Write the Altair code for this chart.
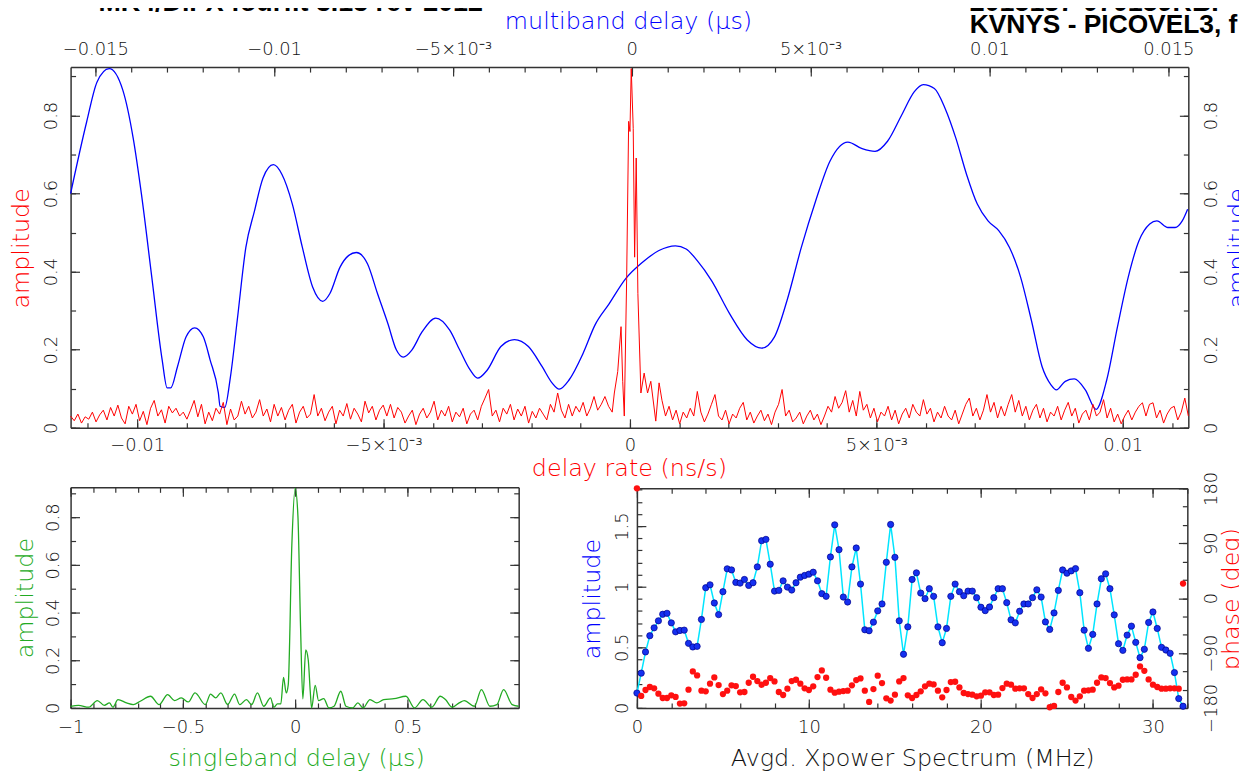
import altair as alt
import numpy as np
import pandas as pd

# ---------------- data ----------------
# Top panel, red: delay-rate amplitude (uniform delay-rate grid, noise floor + peak)
rate_left_start, rate_left_end = -0.01135, -0.00036
rate_left_amp = [
    0.030, 0.018, 0.035, 0.012, 0.028, 0.022, 0.040, 0.015, 0.033, 0.045,
    0.020, 0.052, 0.030, 0.058, 0.025, 0.010, 0.055, 0.035, 0.060, 0.018,
    0.042, 0.008, 0.050, 0.070, 0.030, 0.046, 0.012, 0.055, 0.038, 0.050,
    0.030, 0.040, 0.022, 0.045, 0.070, 0.028, 0.060, 0.010, 0.040, 0.018,
    0.050, 0.035, 0.065, 0.008, 0.048, 0.020, 0.030, 0.068, 0.035, 0.055,
    0.025, 0.040, 0.072, 0.030, 0.048, 0.015, 0.060, 0.030, 0.052, 0.020,
    0.045, 0.060, 0.012, 0.040, 0.055, 0.025, 0.035, 0.085, 0.030, 0.050,
    0.018, 0.040, 0.055, 0.010, 0.045, 0.030, 0.062, 0.022, 0.050, 0.035,
    0.015, 0.068, 0.038, 0.055, 0.020, 0.045, 0.058, 0.030, 0.060, 0.025,
    0.052, 0.040, 0.012, 0.030, 0.045, 0.008, 0.035, 0.050, 0.025, 0.040,
    0.068, 0.020, 0.045, 0.030, 0.055, 0.015, 0.040, 0.028, 0.050, 0.010,
    0.035, 0.045, 0.020, 0.055, 0.076, 0.098, 0.030, 0.045, 0.015, 0.050,
    0.035, 0.060, 0.020, 0.048, 0.030, 0.055, 0.012, 0.042, 0.025, 0.050,
    0.035, 0.020, 0.060, 0.040, 0.089, 0.045, 0.025, 0.060, 0.030, 0.055,
    0.040, 0.065, 0.030, 0.050, 0.080, 0.045, 0.060, 0.080, 0.055, 0.040,
]
rate_peak_x = [-0.000317, -0.000248, -0.000181, -0.000147, -0.000115, -0.0000665,
               -0.0000262, 0.0, 0.0000262, 0.0000665, 0.0000948, 0.000127, 0.000161,
               0.000222, 0.000288, 0.000357, 0.000423, 0.000524, 0.000591]
rate_peak_amp = [0.089, 0.144, 0.259, 0.119, 0.030, 0.386, 0.785, 0.759, 0.920, 0.767,
                 0.437, 0.691, 0.344, 0.089, 0.140, 0.089, 0.119, 0.017, 0.115]
rate_right_start, rate_right_end = 0.00065, 0.01133
rate_right_amp = [
    0.070, 0.030, 0.055, 0.020, 0.045, 0.010, 0.040, 0.025, 0.050, 0.030,
    0.093, 0.040, 0.015, 0.035, 0.060, 0.085, 0.030, 0.020, 0.045, 0.010,
    0.035, 0.025, 0.050, 0.065, 0.020, 0.040, 0.012, 0.030, 0.045, 0.018,
    0.035, 0.008, 0.040, 0.060, 0.098, 0.030, 0.045, 0.015, 0.025, 0.040,
    0.010, 0.030, 0.045, 0.020, 0.035, 0.008, 0.030, 0.055, 0.040, 0.080,
    0.050, 0.065, 0.095, 0.040, 0.070, 0.030, 0.093, 0.045, 0.060, 0.025,
    0.050, 0.015, 0.040, 0.030, 0.055, 0.020, 0.045, 0.010, 0.035, 0.050,
    0.025, 0.060, 0.040, 0.030, 0.072, 0.035, 0.050, 0.015, 0.040, 0.025,
    0.055, 0.030, 0.020, 0.045, 0.010, 0.035, 0.060, 0.076, 0.030, 0.050,
    0.020, 0.045, 0.085, 0.040, 0.065, 0.025, 0.055, 0.030, 0.060, 0.085,
    0.040, 0.070, 0.030, 0.055, 0.020, 0.045, 0.060, 0.025, 0.050, 0.015,
    0.040, 0.030, 0.055, 0.020, 0.045, 0.065, 0.030, 0.050, 0.012, 0.035,
    0.045, 0.020, 0.060, 0.030, 0.040, 0.072, 0.025, 0.050, 0.015, 0.035,
    0.010, 0.030, 0.045, 0.020, 0.040, 0.055, 0.064, 0.030, 0.060, 0.064,
    0.025, 0.045, 0.012, 0.035, 0.050, 0.055, 0.020, 0.040, 0.076, 0.030,
]

# Top panel, blue: multiband delay amplitude
mbd_x = [-0.01569, -0.01524, -0.01495, -0.01461, -0.01423, -0.01394, -0.01371, -0.01342,
         -0.01313, -0.01299, -0.01289, -0.01270, -0.01246, -0.01222, -0.01198, -0.01179,
         -0.01156, -0.01151, -0.01138, -0.01122, -0.01103, -0.01079, -0.01055, -0.01031,
         -0.01002, -0.00978, -0.00949, -0.00921, -0.00892, -0.00864, -0.00844, -0.00816,
         -0.00792, -0.00770, -0.00739, -0.00711, -0.00682, -0.00658, -0.00639, -0.00615,
         -0.00586, -0.00548, -0.00509, -0.00481, -0.00452, -0.00431, -0.00404, -0.00366,
         -0.00328, -0.00289, -0.00251, -0.00223, -0.00203, -0.00175, -0.00136, -0.00103,
         -0.00063, -0.00017, 0.00030, 0.00076, 0.00122, 0.00152, 0.00183, 0.00223,
         0.00273, 0.00323, 0.00363, 0.00399, 0.00434, 0.00474, 0.00514, 0.00554,
         0.00604, 0.00644, 0.00680, 0.00715, 0.00755, 0.00790, 0.00815, 0.00846,
         0.00876, 0.00906, 0.00936, 0.00966, 0.00996, 0.01026, 0.01056, 0.01087,
         0.01117, 0.01147, 0.01172, 0.01187, 0.01212, 0.01237, 0.01268, 0.01298,
         0.01328, 0.01358, 0.01388, 0.01418, 0.01448, 0.01468, 0.01499, 0.01519,
         0.01539, 0.01554]
mbd_amp = [0.600, 0.784, 0.886, 0.920, 0.865, 0.742, 0.599, 0.386, 0.174, 0.102,
           0.102, 0.157, 0.233, 0.256, 0.233, 0.174, 0.090, 0.055, 0.052, 0.131,
           0.276, 0.462, 0.555, 0.640, 0.674, 0.649, 0.573, 0.462, 0.360, 0.324,
           0.344, 0.411, 0.441, 0.449, 0.420, 0.344, 0.267, 0.199, 0.181, 0.199,
           0.246, 0.281, 0.250, 0.199, 0.148, 0.127, 0.148, 0.208, 0.226, 0.208,
           0.157, 0.115, 0.099, 0.123, 0.191, 0.263, 0.318, 0.382, 0.424, 0.454,
           0.466, 0.458, 0.428, 0.377, 0.293, 0.225, 0.204, 0.233, 0.326, 0.462,
           0.581, 0.683, 0.732, 0.715, 0.708, 0.734, 0.802, 0.861, 0.879, 0.869,
           0.818, 0.742, 0.649, 0.573, 0.530, 0.505, 0.462, 0.386, 0.276, 0.157,
           0.110, 0.097, 0.119, 0.125, 0.097, 0.047, 0.123, 0.259, 0.386, 0.479,
           0.522, 0.530, 0.513, 0.513, 0.530, 0.560]

# Bottom-left, green: singleband delay amplitude
sbd_x = [-1.000, -0.965, -0.919, -0.881, -0.850, -0.827, -0.812, -0.789, -0.751, -0.721,
         -0.690, -0.644, -0.606, -0.568, -0.537, -0.507, -0.476, -0.446, -0.400, -0.377,
         -0.354, -0.331, -0.301, -0.270, -0.247, -0.217, -0.194, -0.168, -0.140, -0.110,
         -0.095, -0.079, -0.064, -0.052, -0.040, -0.031, -0.015, 0.000, 0.012, 0.024,
         0.034, 0.047, 0.058, 0.067, 0.073, 0.089, 0.104, 0.127, 0.150, 0.173,
         0.203, 0.226, 0.256, 0.279, 0.302, 0.333, 0.363, 0.394, 0.440, 0.493,
         0.531, 0.569, 0.608, 0.646, 0.669, 0.699, 0.730, 0.753, 0.798, 0.829,
         0.867, 0.898, 0.928, 0.966, 0.995]
sbd_amp = [0.007, 0.011, 0.003, 0.031, 0.011, 0.021, 0.003, 0.035, 0.021, 0.014,
           0.028, 0.049, 0.014, 0.056, 0.031, 0.042, 0.025, 0.063, 0.014, 0.058,
           0.042, 0.063, 0.014, 0.058, 0.014, 0.035, 0.014, 0.063, 0.007, 0.042,
           0.003, 0.017, 0.017, 0.128, 0.063, 0.097, 0.682, 0.921, 0.807, 0.334,
           0.038, 0.243, 0.202, 0.070, 0.000, 0.095, 0.031, 0.039, 0.000, 0.007,
           0.070, 0.007, 0.000, 0.021, 0.000, 0.035, 0.021, 0.035, 0.039, 0.049,
           0.000, 0.035, 0.003, 0.049, 0.035, 0.003, 0.021, 0.031, 0.007, 0.077,
           0.007, 0.014, 0.077, 0.014, 0.007]

# Bottom-right: cross-power spectrum, 128 channels of 0.25 MHz
chan_width = 0.25
spec_amp = [0.123, 0.287, 0.462, 0.596, 0.661, 0.719, 0.773, 0.781, 0.702, 0.628,
            0.639, 0.642, 0.533, 0.503, 0.508, 0.730, 0.992, 1.016, 0.866, 0.770,
            0.959, 1.148, 1.139, 1.036, 1.030, 1.060, 1.011, 1.033, 1.164, 1.380,
            1.391, 1.186, 0.964, 0.970, 1.049, 0.997, 0.973, 1.033, 1.079, 1.093,
            1.104, 1.120, 1.049, 0.943, 0.921, 1.246, 1.511, 1.306, 0.915, 0.874,
            1.164, 1.320, 1.022, 0.645, 0.637, 0.708, 0.801, 0.858, 1.202, 1.514,
            1.243, 0.719, 0.443, 0.669, 1.060, 1.115,
            0.948, 0.902, 0.984, 0.921, 0.669, 0.538, 0.656, 0.921, 1.022, 0.959,
            0.926, 0.964, 0.964, 0.910, 0.831, 0.803, 0.833, 0.910, 0.984, 0.984,
            0.869, 0.727, 0.702, 0.798, 0.858, 0.858, 0.910, 0.975, 0.915, 0.710,
            0.648, 0.784, 0.970, 1.139, 1.112, 1.131, 1.150, 0.951, 0.642, 0.492,
            0.607, 0.858, 1.066, 1.107, 0.984, 0.768, 0.530, 0.475, 0.601, 0.675,
            0.541, 0.415, 0.484, 0.705, 0.792, 0.656, 0.500, 0.478, 0.451, 0.292,
            0.077, 0.014]
spec_phase = [180.0,
              -160.4, -150.6, -145.7, -147.9, -156.6, -163.7, -163.7, -159.3, -162.0, -172.9,
              -172.4, -150.1, -120.2, -126.7, -151.7, -152.8, -140.3, -130.0, -142.5, -157.2,
              -151.7, -143.0, -144.1, -154.4, -153.9, -138.7, -128.9, -136.0, -142.0, -138.7,
              -131.1, -136.5, -153.9, -158.8, -148.5, -136.0, -133.8, -140.3, -147.9, -150.6,
              -144.6, -129.4, -118.5, -130.5, -150.1, -155.0, -153.4, -152.3, -151.7, -143.0,
              -134.3, -131.6, -151.7, -170.2, -149.0, -127.2, -139.2, -164.2, -168.0, -158.2,
              -136.5, -131.1, -159.3, -163.7, -158.8,
              -152.8, -144.6, -140.3, -141.4, -151.7, -162.6, -150.6, -137.6, -137.1, -146.3,
              -155.5, -157.2, -158.2, -161.0, -159.9, -154.4, -154.4, -158.8, -158.2, -147.4,
              -140.3, -141.9, -148.5, -147.9, -147.9, -157.2, -163.7, -157.2, -149.5, -156.1,
              -178.9, -176.7, -153.9, -138.7, -146.3, -162.1, -168.0, -161.0, -151.7, -151.2,
              -150.1, -138.7, -130.0, -131.1, -139.2, -146.3, -143.6, -133.8, -133.2, -133.2,
              -125.6, -112.0, -119.1, -133.2, -141.9, -145.7, -148.5, -148.5, -147.9, -147.9,
              -148.5, 23.9]

header_left = "MK4/DiFX fourfit  3.13 rev 2012"
header_right_1 = "2015157-070159RBI"
header_right_2 = "KVNYS - PICOVEL3, f"

# ---------------- tables ----------------
rate_df = pd.DataFrame({
    "rate": list(np.linspace(rate_left_start, rate_left_end, len(rate_left_amp))) + rate_peak_x
            + list(np.linspace(rate_right_start, rate_right_end, len(rate_right_amp))),
    "amp": rate_left_amp + rate_peak_amp + rate_right_amp,
})
mbd_df = pd.DataFrame({"mbd": mbd_x, "amp": mbd_amp})
sbd_df = pd.DataFrame({"sbd": sbd_x, "amp": sbd_amp})
spec_df = pd.DataFrame({"freq": np.arange(len(spec_amp)) * chan_width,
                        "amp": spec_amp, "phase": spec_phase})

# ---------------- layout / style ----------------
W, H = 1239, 763
FONT = "DejaVu Sans"
LW = 300
AX = "#333333"
RED, BLUE, GREEN, CYAN = "#ff0000", "#0000ff", "#22aa22", "#00e5ff"
MAJ, MIN = 9, 5

T_X0, T_X1, T_YT, T_YB = 63, 1188, 57, 420
L_X0, L_X1, L_YT, L_YB = 63, 514, 480, 702
R_X0, R_X1, R_YT, R_YB = 633, 1187, 481, 702

PLAIN = "format(datum.value, '~g')"
SCI = ("abs(datum.value) < 1e-9 ? '0' : abs(abs(datum.value) - 0.005) < 1e-9 ? "
       "(datum.value < 0 ? '−5×10⁻³' : '5×10⁻³') : format(datum.value, '.3~f')")


def sc(domain, rng):
    return alt.Scale(domain=domain, range=rng, nice=False, zero=False)


def tick_axis(orient, offset, values, size):
    return alt.Axis(orient=orient, offset=offset, values=values, ticks=True, tickSize=size,
                    tickColor=AX, tickWidth=1.2, labels=False, domain=False, grid=False,
                    title=None)


def frame_axis(orient, offset):
    return alt.Axis(orient=orient, offset=offset, ticks=False, labels=False, domain=True,
                    domainColor=AX, domainWidth=1.5, grid=False, title=None)


def label_axis(orient, offset, values, title, tcolor, tx, ty, pad, expr=PLAIN, angle=0,
               baseline=None, align=None, tangle=0):
    kw = dict(orient=orient, offset=offset, values=values, ticks=False, domain=True,
              domainColor=AX, domainWidth=1.5, grid=False, labelFont=FONT, labelFontSize=18,
              labelColor="#111111", labelPadding=pad, labelFlush=False, labelOverlap=False,
              labelAngle=angle, labelFontWeight=LW, labelExpr=expr,
              title=title, titleColor=tcolor, titleFont=FONT, titleFontSize=24,
              titleFontWeight=LW, titleX=tx, titleY=ty, titleAlign="center",
              titleBaseline="middle", titleAngle=tangle, titlePadding=0)
    if baseline:
        kw["labelBaseline"] = baseline
    if align:
        kw["labelAlign"] = align
    return alt.Axis(**kw)


def carrier(xdom, ydom, xscale, yscale, xaxis, yaxis):
    cdf = pd.DataFrame({"cx": xdom, "cy": ydom})
    return alt.Chart(cdf).mark_point(opacity=0).encode(
        x=alt.X("cx:Q", scale=xscale, axis=xaxis),
        y=alt.Y("cy:Q", scale=yscale, axis=yaxis),
    )


def r6(v):
    return round(v, 6)


# ---------------- top panel ----------------
rate_dom, mbd_dom, top_ydom = [-0.01135, 0.01133], [-0.01569, 0.01556], [0, 0.924]
rate_sx = sc(rate_dom, [T_X0, T_X1])
mbd_sx = sc(mbd_dom, [T_X0, T_X1])
top_sy = sc(top_ydom, [T_YB, T_YT])
top_ymaj = [0, 0.2, 0.4, 0.6, 0.8]
top_ymin = [r6(0.1 * i) for i in range(10)]
rate_maj = [-0.01, -0.005, 0, 0.005, 0.01]
rate_min = [r6(0.001 * i) for i in range(-11, 12)]
mbd_maj = [-0.015, -0.01, -0.005, 0, 0.005, 0.01, 0.015]
mbd_min = [r6(0.001 * i) for i in range(-15, 16)]

blue_line = alt.Chart(mbd_df).mark_line(color=BLUE, strokeWidth=1.3, interpolate="monotone").encode(
    x=alt.X("mbd:Q", scale=mbd_sx,
            axis=label_axis("top", -T_YT, mbd_maj, "multiband delay (μs)", BLUE,
                            624, 11 - T_YT, 13, expr=SCI, baseline="alphabetic")),
    y=alt.Y("amp:Q", scale=top_sy,
            axis=label_axis("right", T_X1 - W, top_ymaj, "amplitude", BLUE, 50, 239, 14,
                            angle=270, baseline="top", align="center", tangle=270)),
)
red_line = alt.Chart(rate_df).mark_line(color=RED, strokeWidth=1).encode(
    x=alt.X("rate:Q", scale=rate_sx,
            axis=label_axis("bottom", T_YB - H, rate_maj, "delay rate (ns/s)", RED,
                            625, 41, 9, expr=SCI, baseline="top")),
    y=alt.Y("amp:Q", scale=top_sy,
            axis=label_axis("left", -T_X0, top_ymaj, "amplitude", RED, -49, 239, 14,
                            angle=270, baseline="alphabetic", align="center", tangle=270)),
)
top_layers = [
    blue_line, red_line,
    carrier(rate_dom, top_ydom, rate_sx, top_sy,
            tick_axis("bottom", T_YB - MAJ - H, rate_maj, MAJ),
            tick_axis("left", -(T_X0 + MAJ), top_ymaj, MAJ)),
    carrier(rate_dom, top_ydom, rate_sx, top_sy,
            tick_axis("bottom", T_YB - MIN - H, rate_min, MIN),
            tick_axis("left", -(T_X0 + MIN), top_ymin, MIN)),
    carrier(mbd_dom, top_ydom, mbd_sx, top_sy,
            tick_axis("top", -(T_YT + MAJ), mbd_maj, MAJ),
            tick_axis("right", T_X1 - MAJ - W, top_ymaj, MAJ)),
    carrier(mbd_dom, top_ydom, mbd_sx, top_sy,
            tick_axis("top", -(T_YT + MIN), mbd_min, MIN),
            tick_axis("right", T_X1 - MIN - W, top_ymin, MIN)),
]

# ---------------- bottom-left panel ----------------
sbd_dom, bl_ydom = [-1, 0.995], [0, 0.925]
sbd_sx = sc(sbd_dom, [L_X0, L_X1])
bl_sy = sc(bl_ydom, [L_YB, L_YT])
sbd_maj = [-1, -0.5, 0, 0.5]
sbd_min = [r6(0.1 * i) for i in range(-10, 10)]
bl_ymaj = [0, 0.2, 0.4, 0.6, 0.8]
bl_ymin = [r6(0.1 * i) for i in range(10)]

green_line = alt.Chart(sbd_df).mark_line(color=GREEN, strokeWidth=1.3, interpolate="monotone").encode(
    x=alt.X("sbd:Q", scale=sbd_sx,
            axis=label_axis("bottom", L_YB - H, sbd_maj, "singleband delay (μs)", GREEN,
                            290, 51, 11, baseline="top")),
    y=alt.Y("amp:Q", scale=bl_sy,
            axis=label_axis("left", -L_X0, bl_ymaj, "amplitude", GREEN, -45, 591, 12,
                            angle=270, baseline="alphabetic", align="center", tangle=270)),
)
bl_layers = [
    green_line,
    carrier(sbd_dom, bl_ydom, sbd_sx, bl_sy,
            tick_axis("bottom", L_YB - MAJ - H, sbd_maj, MAJ),
            tick_axis("left", -(L_X0 + MAJ), bl_ymaj, MAJ)),
    carrier(sbd_dom, bl_ydom, sbd_sx, bl_sy,
            tick_axis("bottom", L_YB - MIN - H, sbd_min, MIN),
            tick_axis("left", -(L_X0 + MIN), bl_ymin, MIN)),
    carrier(sbd_dom, bl_ydom, sbd_sx, bl_sy,
            frame_axis("top", -L_YT), frame_axis("right", L_X1 - W)),
    carrier(sbd_dom, bl_ydom, sbd_sx, bl_sy,
            tick_axis("top", -(L_YT + MAJ), sbd_maj, MAJ),
            tick_axis("right", L_X1 - MAJ - W, bl_ymaj, MAJ)),
    carrier(sbd_dom, bl_ydom, sbd_sx, bl_sy,
            tick_axis("top", -(L_YT + MIN), sbd_min, MIN),
            tick_axis("right", L_X1 - MIN - W, bl_ymin, MIN)),
]

# ---------------- bottom-right panel ----------------
f_dom, amp_dom, ph_dom = [0, 32], [0, 1.812], [-180, 180]
f_sx = sc(f_dom, [R_X0, R_X1])
amp_sy = sc(amp_dom, [R_YB, R_YT])
ph_sy = sc(ph_dom, [R_YB, R_YT])
f_maj = [0, 10, 20, 30]
f_min = list(range(0, 33, 2))
amp_maj = [0, 0.5, 1, 1.5]
amp_min = [r6(0.1 * i) for i in range(19)]
ph_maj = [-180, -90, 0, 90, 180]
ph_min = list(range(-180, 181, 30))

cyan_line = alt.Chart(spec_df).mark_line(color=CYAN, strokeWidth=1.5).encode(
    x=alt.X("freq:Q", scale=f_sx,
            axis=label_axis("bottom", R_YB - H, f_maj, "Avgd. Xpower Spectrum (MHz)", "#111111",
                            910, 51, 11, baseline="top")),
    y=alt.Y("amp:Q", scale=amp_sy,
            axis=label_axis("left", -R_X0, amp_maj, "amplitude", BLUE, -45, 592, 9,
                            angle=270, baseline="alphabetic", align="center", tangle=270)),
)
blue_pts = alt.Chart(spec_df).mark_circle(size=40, color="#1530f0", opacity=1,
                                          stroke="#00008a", strokeWidth=0.7).encode(
    x=alt.X("freq:Q", scale=f_sx, axis=None),
    y=alt.Y("amp:Q", scale=amp_sy, axis=None),
)
red_pts = alt.Chart(spec_df).mark_circle(size=40, color="#ff1010", opacity=1).encode(
    x=alt.X("freq:Q", scale=f_sx, axis=None),
    y=alt.Y("phase:Q", scale=ph_sy,
            axis=label_axis("right", R_X1 - W, ph_maj, "phase (deg)", RED, 44, 592, 15,
                            angle=270, baseline="top", align="center", tangle=270)),
)
br_layers = [
    cyan_line, blue_pts, red_pts,
    carrier(f_dom, amp_dom, f_sx, amp_sy,
            tick_axis("bottom", R_YB - MAJ - H, f_maj, MAJ),
            tick_axis("left", -(R_X0 + MAJ), amp_maj, MAJ)),
    carrier(f_dom, amp_dom, f_sx, amp_sy,
            tick_axis("bottom", R_YB - MIN - H, f_min, MIN),
            tick_axis("left", -(R_X0 + MIN), amp_min, MIN)),
    carrier(f_dom, ph_dom, f_sx, ph_sy,
            frame_axis("top", -R_YT),
            tick_axis("right", R_X1 - MAJ - W, ph_maj, MAJ)),
    carrier(f_dom, ph_dom, f_sx, ph_sy,
            tick_axis("top", -(R_YT + MAJ), f_maj, MAJ),
            tick_axis("right", R_X1 - MIN - W, ph_min, MIN)),
    carrier(f_dom, ph_dom, f_sx, ph_sy,
            tick_axis("top", -(R_YT + MIN), f_min, MIN), None),
]

# ---------------- header text ----------------
hdr_left = alt.Chart(pd.DataFrame({"t": [header_left]})).mark_text(
    font="Liberation Sans", fontWeight="bold", fontSize=27, align="right",
    baseline="alphabetic", color="#000000").encode(x=alt.value(478), y=alt.value(1), text="t:N")
hdr_r1 = alt.Chart(pd.DataFrame({"t": [header_right_1]})).mark_text(
    font="Liberation Sans", fontWeight="bold", fontSize=27, align="left",
    baseline="alphabetic", color="#000000").encode(x=alt.value(968), y=alt.value(1), text="t:N")
hdr_r2 = alt.Chart(pd.DataFrame({"t": [header_right_2]})).mark_text(
    font="Liberation Sans", fontWeight="bold", fontSize=26.5, align="left",
    baseline="alphabetic", color="#000000").encode(x=alt.value(968), y=alt.value(23), text="t:N")

chart = alt.layer(*(top_layers + bl_layers + br_layers + [hdr_left, hdr_r1, hdr_r2])).resolve_scale(
    x="independent", y="independent"
).properties(
    width=W, height=H, autosize=alt.AutoSizeParams(type="none"), padding=0,
).configure_view(stroke=None)

chart.save("out.html", embed_options={"renderer": "svg", "actions": False})
